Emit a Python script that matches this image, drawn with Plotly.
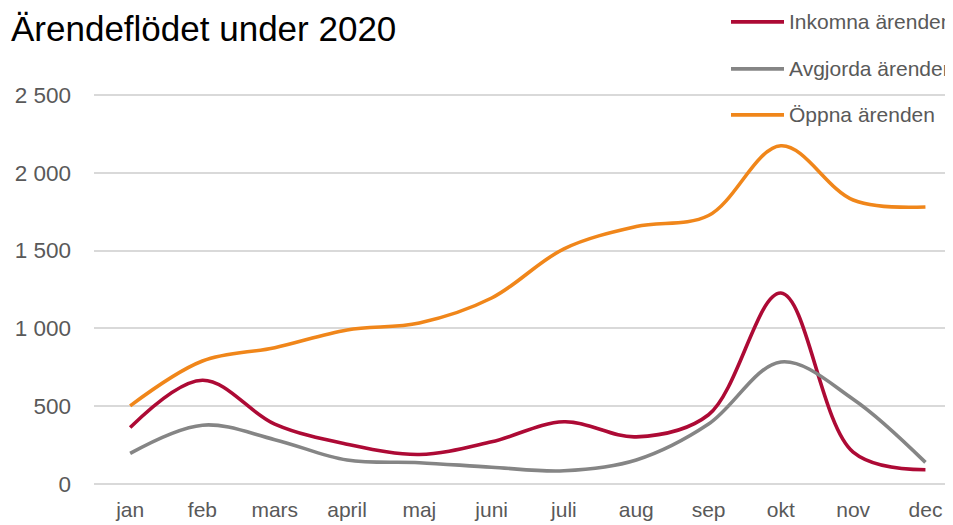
import plotly.graph_objects as go

months = ["jan", "feb", "mars", "april", "maj", "juni", "juli", "aug", "sep", "okt", "nov", "dec"]
inkomna = [363, 667, 385, 256, 190, 271, 400, 303, 445, 1227, 205, 92]
avgjorda = [197, 378, 285, 154, 137, 108, 85, 154, 385, 784, 545, 139]
oppna = [502, 790, 876, 990, 1035, 1195, 1511, 1654, 1725, 2173, 1825, 1780]
series_names = ["Inkomna ärenden", "Avgjorda ärenden", "Öppna ärenden"]
colors = ["#AD0A35", "#858585", "#F0861A"]
yticks = [0, 500, 1000, 1500, 2000, 2500]
ytick_text = ["0", "500", "1 000", "1 500", "2 000", "2 500"]

# page body has an 8px margin; work in window coordinates and subtract it
OFF = 8
W, H = 953 - OFF, 525 - OFF
y0_px, y2500_px = 484, 95
ppu = (y0_px - y2500_px) / 2500.0
ymax = 2525
top_px = y0_px - ymax * ppu
left_px = 94
t_m = top_px - OFF
b_m = H - (y0_px - OFF)
l_m = left_px - OFF
xmax = -0.5 + (953 - left_px) / 72.3

def px_to_paper_y(py):
    return (y0_px - py) / (y0_px - top_px)

def px_to_paper_x(px):
    return (px - left_px) / (953 - left_px)

fig = go.Figure()
for name, vals, col in zip(series_names, [inkomna, avgjorda, oppna], colors):
    fig.add_trace(go.Scatter(
        x=list(range(len(months))), y=vals, name=name, mode="lines",
        line=dict(color=col, width=3.6, shape="spline", smoothing=1.0),
        showlegend=False, hoverinfo="x+y+name"))

# manual legend
legend_y = [22, 69, 115]
for name, col, yy in zip(series_names, colors, legend_y):
    fig.add_shape(type="line", xref="paper", yref="paper",
                  x0=px_to_paper_x(731), x1=px_to_paper_x(784),
                  y0=px_to_paper_y(yy), y1=px_to_paper_y(yy),
                  line=dict(color=col, width=3.6))
    fig.add_annotation(text=name, xref="paper", yref="paper",
                       x=px_to_paper_x(787), y=px_to_paper_y(yy),
                       xanchor="left", yanchor="middle", showarrow=False,
                       font=dict(family="Liberation Sans, Arial", size=21, color="#595959"))

fig.update_layout(
    width=W, height=H,
    margin=dict(l=l_m, r=0, t=t_m, b=b_m, pad=0, autoexpand=False),
    paper_bgcolor="white", plot_bgcolor="white",
    title=dict(text="Ärendeflödet under 2020", xref="container", yref="container",
               x=(11 - OFF) / W, y=1 - (28.5 - OFF) / H, xanchor="left", yanchor="middle",
               font=dict(family="Liberation Sans, Arial", size=35, color="#000000")),
    xaxis=dict(tickmode="array", tickvals=list(range(len(months))), ticktext=months,
               range=[-0.5, xmax], showgrid=False, zeroline=False, showline=False,
               ticks="", ticklabelstandoff=11, automargin=False,
               tickfont=dict(family="Liberation Sans, Arial", size=21, color="#595959")),
    yaxis=dict(tickmode="array", tickvals=yticks, ticktext=ytick_text,
               range=[0, ymax], showgrid=True, gridcolor="#D9D9D9", gridwidth=1.5,
               zeroline=True, zerolinecolor="#D9D9D9", zerolinewidth=1.5,
               showline=False, ticks="", ticklabelstandoff=22, automargin=False,
               tickfont=dict(family="Liberation Sans, Arial", size=22.5, color="#595959")),
)

fig.write_html("out.html")
